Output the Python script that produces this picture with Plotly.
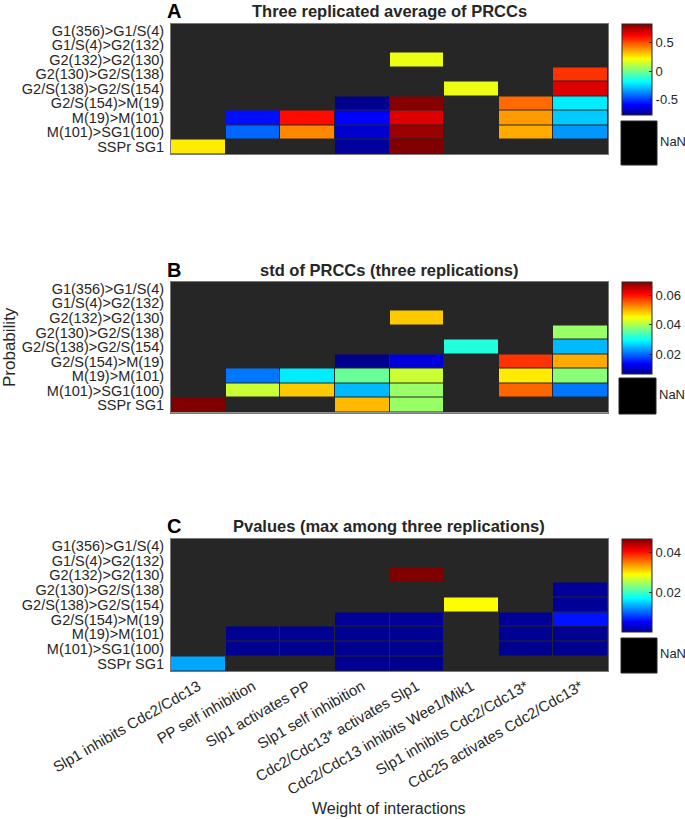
import plotly.graph_objects as go

W, H = 685, 819

rows = ["G1(356)>G1/S(4)", "G1/S(4)>G2(132)", "G2(132)>G2(130)", "G2(130)>G2/S(138)",
        "G2/S(138)>G2/S(154)", "G2/S(154)>M(19)", "M(19)>M(101)", "M(101)>SG1(100)", "SSPr SG1"]
cols = ["Slp1 inhibits Cdc2/Cdc13", "PP self inhibition", "Slp1 activates PP",
        "Slp1 self inhibition", "Cdc2/Cdc13* activates Slp1", "Cdc2/Cdc13 inhibits Wee1/Mik1",
        "Slp1 inhibits Cdc2/Cdc13*", "Cdc25 activates Cdc2/Cdc13*"]

N = None
prcc_mean = [
    [N, N, N, N, N, N, N, N],
    [N, N, N, N, N, N, N, N],
    [N, N, N, N, 0.19, N, N, N],
    [N, N, N, N, N, N, N, 0.545],
    [N, N, N, N, N, 0.19, N, 0.68],
    [N, N, N, -0.77, 0.82, N, 0.46, -0.215],
    [N, -0.57, 0.61, -0.59, 0.68, N, 0.38, -0.27],
    [N, -0.43, 0.41, -0.67, 0.79, N, 0.355, -0.35],
    [0.25, N, N, -0.75, 0.83, N, N, N],
]
prcc_std = [
    [N, N, N, N, N, N, N, N],
    [N, N, N, N, N, N, N, N],
    [N, N, N, N, 0.0486, N, N, N],
    [N, N, N, N, N, N, N, 0.0389],
    [N, N, N, N, N, 0.0314, N, 0.025],
    [N, N, N, 0.0063, 0.0112, N, 0.0582, 0.0507],
    [N, 0.0208, 0.0282, 0.0358, 0.0421, N, 0.0467, 0.0379],
    [N, 0.0421, 0.0486, 0.025, 0.0389, N, 0.055, 0.0208],
    [0.0694, N, N, 0.0497, 0.0389, N, N, N],
]
pvalues = [
    [N, N, N, N, N, N, N, N],
    [N, N, N, N, N, N, N, N],
    [N, N, N, N, 0.0467, N, N, N],
    [N, N, N, N, N, N, N, 0.0006],
    [N, N, N, N, N, 0.029, N, 0.0006],
    [N, N, N, 0.0005, 0.0005, N, 0.0005, 0.0062],
    [N, 0.0003, 0.0003, 0.0003, 0.0003, N, 0.0003, 0.0003],
    [N, 0.0002, 0.0002, 0.0002, 0.0002, N, 0.0002, 0.0002],
    [0.013, N, N, 0.0003, 0.00015, N, N, N],
]

titles = ["Three replicated average of PRCCs", "std of PRCCs (three replications)",
          "Pvalues (max among three replications)"]
letters = ["A", "B", "C"]
cb_ticks = [[-0.5, 0, 0.5], [0.02, 0.04, 0.06], [0.02, 0.04]]
cb_text = [["-0.5", "0", "0.5"], ["0.02", "0.04", "0.06"], ["0.02", "0.04"]]

jet = [[0.0, "rgb(0,0,143)"], [0.111, "rgb(0,0,255)"], [0.365, "rgb(0,255,255)"],
       [0.619, "rgb(255,255,0)"], [0.873, "rgb(255,0,0)"], [1.0, "rgb(128,0,0)"]]

FONT = "Liberation Sans, Arial, sans-serif"
TXT = "#262626"

hx0, hx1 = 171, 608
panels = [
    dict(top=23.5, bot=154, cbt=24, cbb=115, nan=(621, 121, 657, 165), ty=11.5),
    dict(top=281.5, bot=412.5, cbt=282, cbb=374, nan=(619, 378, 656, 414), ty=270),
    dict(top=538.5, bot=671, cbt=539, cbb=632, nan=(621, 638, 657, 673), ty=526),
]

def px(x):
    return x / W

def py(y):
    return 1 - y / H

def note(text, x, y, size, xanchor="center", angle=0, color=TXT):
    return dict(text=text, x=px(x), y=py(y), xref="paper", yref="paper",
                xanchor=xanchor, yanchor="middle", showarrow=False, textangle=angle,
                font=dict(family=FONT, size=size, color=color))

fig = go.Figure()
datasets = [prcc_mean, prcc_std, pvalues]
annotations = []
shapes = []
for i, (z, p) in enumerate(zip(datasets, panels)):
    k = "" if i == 0 else str(i + 1)
    fig.add_trace(go.Heatmap(
        z=z, x=cols, y=rows, colorscale=jet, xgap=1, ygap=1,
        xaxis="x" + k, yaxis="y" + k,
        colorbar=dict(
            x=px(622), xanchor="left", xpad=0, ypad=0,
            y=py(p["cbt"]), yanchor="top",
            lenmode="pixels", len=p["cbb"] - p["cbt"],
            thickness=30, thicknessmode="pixels",
            outlinecolor="#262626", outlinewidth=1,
            tickvals=cb_ticks[i], ticktext=cb_text[i],
            ticks="inside", ticklen=3, tickcolor="#262626",
            tickfont=dict(family=FONT, size=13, color=TXT),
        ),
        hoverongaps=False,
    ))
    fig.layout["xaxis" + k] = dict(
        domain=[px(hx0), px(hx1)], anchor="y" + k, showgrid=False, zeroline=False,
        showline=True, mirror=True, linecolor="#7a7a7a", linewidth=1,
        showticklabels=(i == 2), tickangle=-30, ticks="", automargin=False,
        tickmode="array", tickvals=cols,
        tickfont=dict(family=FONT, size=15, color=TXT),
        categoryorder="array", categoryarray=cols,
    )
    fig.layout["yaxis" + k] = dict(
        domain=[py(p["bot"]), py(p["top"])], anchor="x" + k, showgrid=False, zeroline=False,
        showline=True, mirror=True, linecolor="#7a7a7a", linewidth=1,
        autorange="reversed", ticks="", ticklabelstandoff=3, automargin=False,
        tickmode="array", tickvals=rows,
        tickfont=dict(family=FONT, size=14.5, color=TXT),
        categoryorder="array", categoryarray=rows,
    )
    annotations.append(note("<b>" + titles[i] + "</b>", 389, p["ty"], 16.5))
    annotations.append(note("<b>" + letters[i] + "</b>", 165, p["ty"], 20,
                            xanchor="left", color="#000000"))
    x0, y0, x1, y1 = p["nan"]
    shapes.append(dict(type="rect", xref="paper", yref="paper", x0=px(x0), x1=px(x1),
                       y0=py(y1), y1=py(y0), fillcolor="#000000",
                       line=dict(color="#262626", width=1)))
    annotations.append(note("NaN", x1 + 1, (y0 + y1) / 2 - 2, 13, xanchor="left"))

annotations.append(note("Weight of interactions", 389, 808, 16))
annotations.append(note("Probability", 9, 347, 17, angle=-90))

fig.update_layout(
    width=W, height=H, margin=dict(l=0, r=0, t=0, b=0, autoexpand=False),
    paper_bgcolor="white", plot_bgcolor="#262626",
    annotations=annotations, shapes=shapes, showlegend=False,
)

fig.write_html("out.html", config={"displayModeBar": False},
               post_script="document.body.style.margin='0';")
